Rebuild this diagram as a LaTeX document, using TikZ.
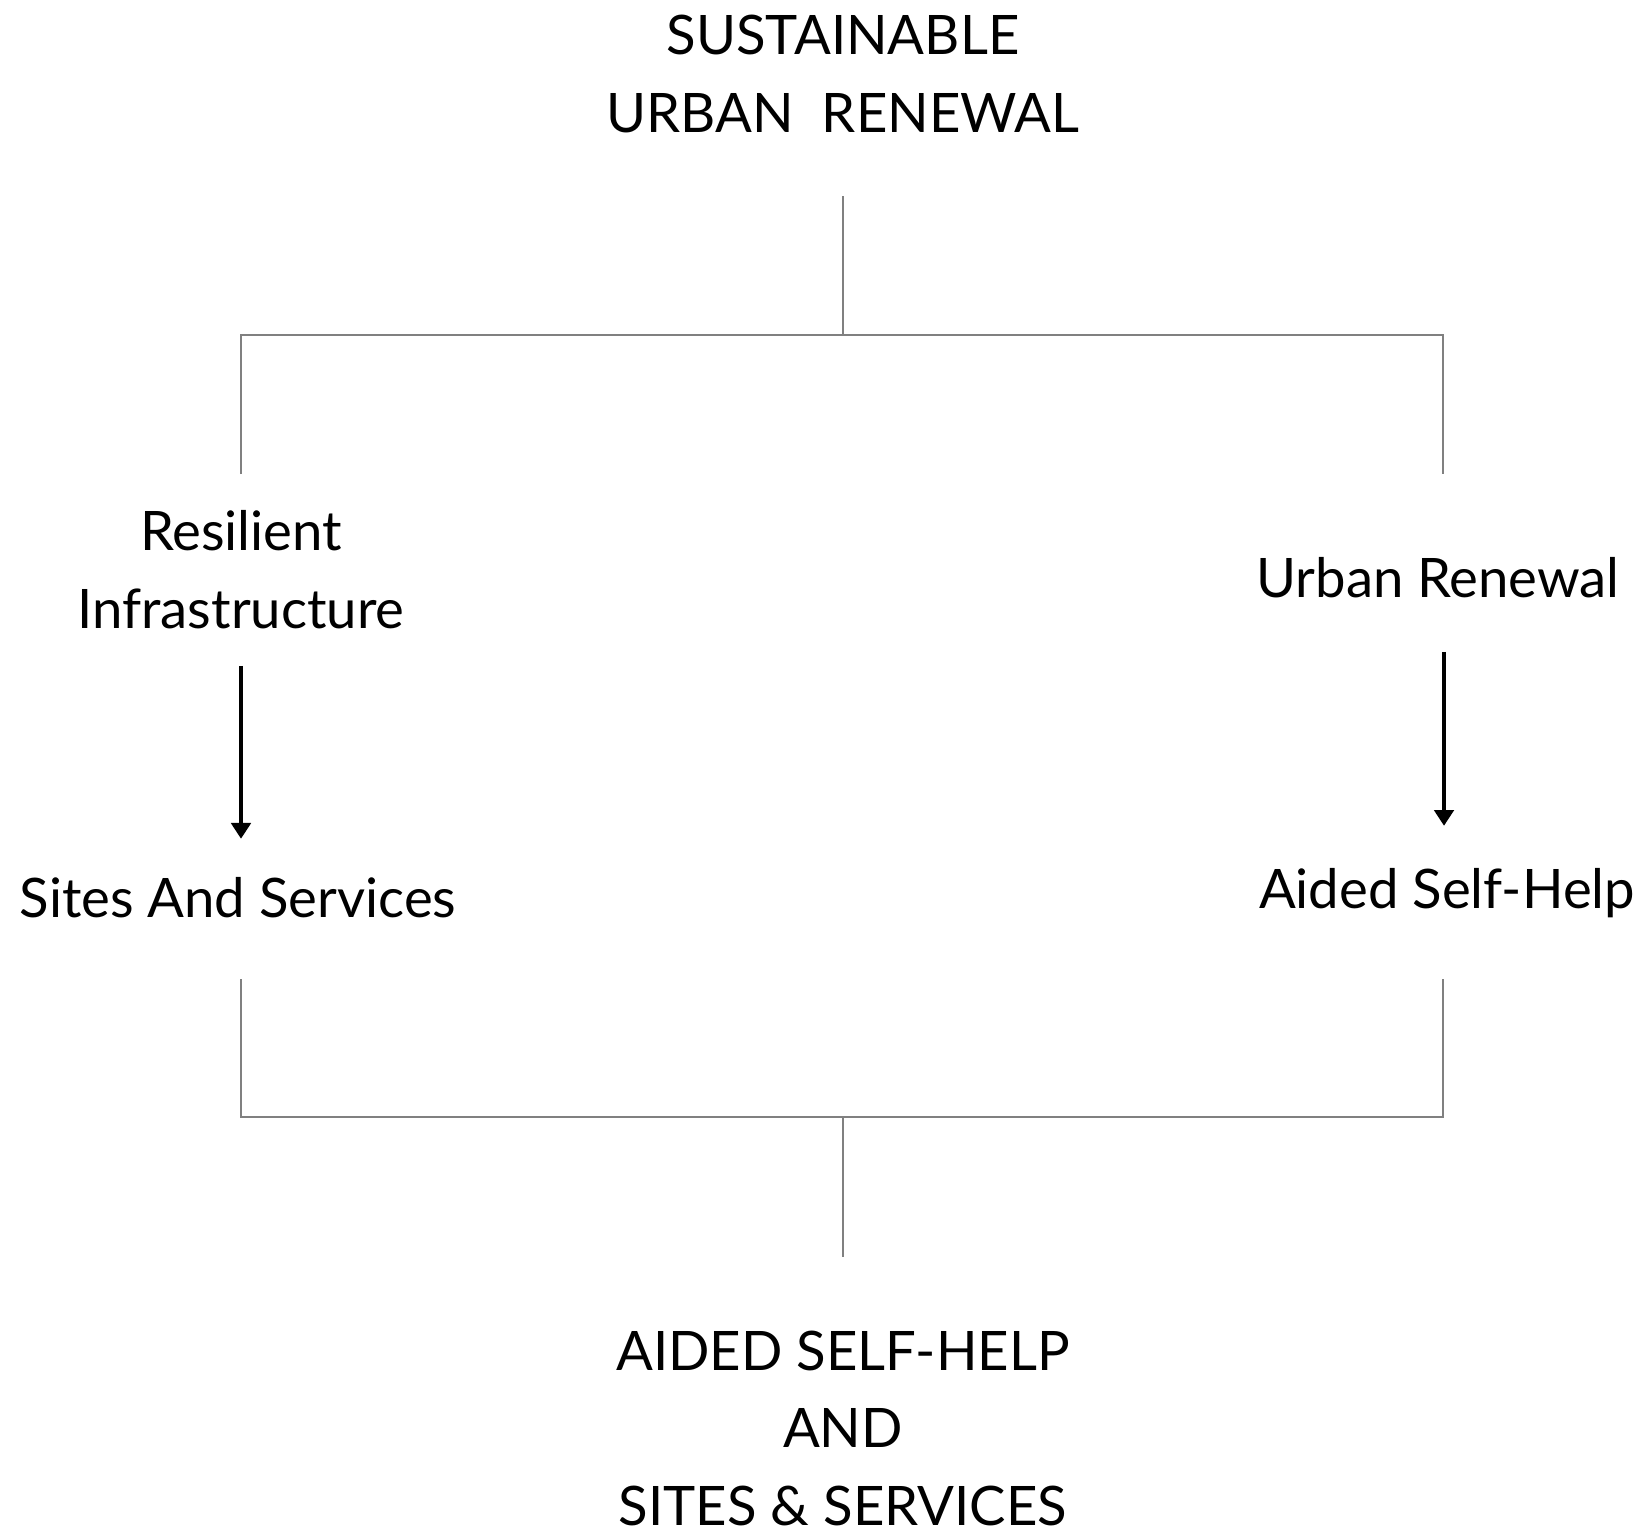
\documentclass[tikz,border=0pt]{standalone}
\usepackage{fontspec}
\setmainfont{Lato}
\usetikzlibrary{arrows.meta}

\begin{document}
\begin{tikzpicture}[x=0.02cm,y=-0.02cm,
    label/.style = {inner sep=0pt, anchor=base, align=center,
      font=\fontsize{31}{44}\selectfont},
    wire/.style = {draw=black!50, line width=0.85pt},
    flow/.style = {draw=black, line width=2.2pt,
      -{Triangle[width=11pt,length=9pt]}}]
  \useasboundingbox (0,0) rectangle (1652,1535);

  % texts (anchor base = baseline of the last line)
  \node[label](top) at (843,132) {SUSTAINABLE\\URBAN~~RENEWAL};
  \node[label](res) at (241,628) {Resilient\\Infrastructure};
  \node[label](sites) at (238,917) {Sites And Services};
  \node[label](ur) at (1438,597) {Urban Renewal};
  \node[label](ash) at (1447,908) {Aided Self-Help};
  \node[label](goal) at (843,1525) {AIDED SELF-HELP\\AND\\SITES \& SERVICES};

  % upper bracket
  \coordinate (t1) at (843,196);
  \coordinate (t2) at (843,335);
  \coordinate (tl) at (241,335);
  \coordinate (tr) at (1443,335);
  \coordinate (tld) at (241,474);
  \coordinate (trd) at (1443,474);
  % lower bracket
  \coordinate (bl) at (241,979);
  \coordinate (br) at (1443,979);
  \coordinate (bld) at (241,1117);
  \coordinate (brd) at (1443,1117);
  \coordinate (b1) at (843,1117);
  \coordinate (b2) at (843,1257);

  \draw[wire] (t1) -- (t2);
  \draw[wire] (tld) -- (tl) -- (tr) -- (trd);
  \draw[wire] (bl) -- (bld) -- (brd) -- (br);
  \draw[wire] (b1) -- (b2);

  \draw[flow] (res.south) ++(0,37) -- ++(0,173) coordinate (ra);
  \draw[flow] (ur.south -| 1444,0) ++(0,54) -- ++(0,174) coordinate (ua);
\end{tikzpicture}
\end{document}
